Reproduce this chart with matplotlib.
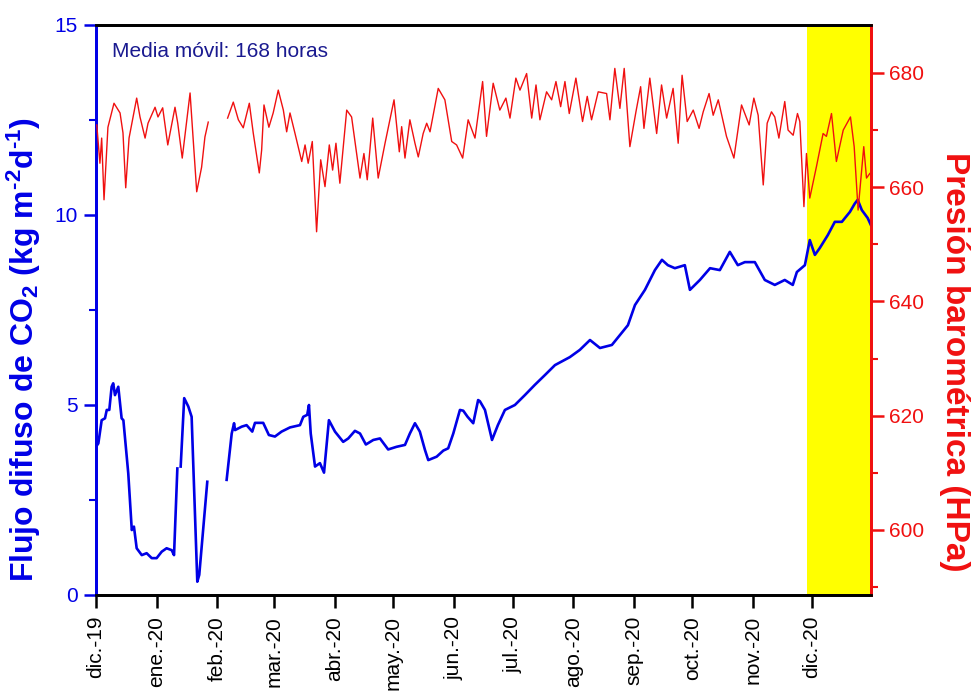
import numpy as np
import matplotlib
matplotlib.use("Agg")
import matplotlib.pyplot as plt
from matplotlib.ticker import FixedLocator, MultipleLocator

plt.rcParams['font.family'] = ['Liberation Sans', 'DejaVu Sans']
plt.rcParams['mathtext.fontset'] = 'custom'
plt.rcParams['mathtext.rm'] = 'Liberation Sans:bold'
plt.rcParams['mathtext.default'] = 'rm'

# ---- data (days since 2019-12-01) ----
flux_days = [0, 1.2, 2.9, 4.6, 5.5, 6.8, 8.0, 8.8, 9.7, 11.4, 13.1, 14.0, 16.5, 18.3, 19.4,
             20.8, 23.4, 25.9, 28.5, 31.0, 33.6, 36.1, 38.7, 39.9, 41.6, 42.4, 43.3, 45.1,
             47.2, 48.9, 51.8, 52.8, 56.9, 61.0,
             66.8, 69.4, 70.6, 71.1, 74.5, 77.0, 79.9, 81.3, 85.5, 88.4, 91.5, 94.9, 99.2,
             104.3, 106.0, 108.0, 108.9, 109.8, 112.0, 114.5, 116.6, 119.1, 122.2, 126.4,
             129.0, 132.4, 135.0, 138.0, 141.8, 145.2, 149.4, 153.7, 158.0, 160.5, 163.1,
             165.6, 168.2, 169.9, 174.2, 177.6, 180.1, 182.7, 186.1, 187.8, 190.0, 192.9,
             195.4, 196.3, 198.9, 202.5, 205.5, 209.1, 214.2, 219.3, 224.4, 229.6, 234.7,
             242.3, 247.4, 252.6, 257.7, 263.8, 267.9, 272.0, 275.6, 280.7, 285.8, 289.4,
             292.4, 296.0, 301.1, 303.7, 308.8, 314.0, 319.0, 324.1, 328.2, 331.8, 336.9,
             342.0, 347.1, 352.2, 356.3, 358.4, 362.5, 365.0, 367.6, 370.1, 374.2, 377.8,
             381.4, 385.5, 388.0, 389.5, 391.6, 394.6, 396.2]
flux_vals = [3.90, 3.99, 4.60, 4.65, 4.87, 4.87, 5.48, 5.57, 5.26, 5.48, 4.65, 4.60, 3.20, 1.71, 1.80,
             1.23, 1.05, 1.10, 0.97, 0.97, 1.14, 1.23, 1.18, 1.05, 3.33, np.nan, 3.38, 5.18,
             4.96, 4.69, 0.35, 0.53, 2.98, np.nan,
             3.03, 4.25, 4.52, 4.34, 4.43, 4.47, 4.30, 4.53, 4.53, 4.21, 4.17, 4.30, 4.41,
             4.47, 4.69, 4.74, 5.00, 4.25, 3.38, 3.47, 3.22, 4.60, 4.30, 4.03,
             4.12, 4.32, 4.25, 3.96, 4.08, 4.12, 3.83, 3.90, 3.95, 4.25, 4.52,
             4.30, 3.82, 3.55, 3.64, 3.80, 3.86, 4.25, 4.87, 4.85, 4.69, 4.52,
             5.13, 5.10, 4.87, 4.08, 4.47, 4.87, 5.00, 5.26, 5.53, 5.79, 6.05,
             6.26, 6.45, 6.71, 6.50, 6.58, 6.84, 7.10, 7.63, 8.03, 8.55, 8.82,
             8.68, 8.60, 8.68, 8.03, 8.29, 8.60, 8.55, 9.03, 8.68, 8.76, 8.76,
             8.29, 8.16, 8.29, 8.16, 8.50, 8.68, 9.34, 8.95, 9.13, 9.47, 9.82,
             9.82, 10.08, 10.30, 10.40, 10.13, 9.92, 9.74]

pres_days = [0.4, 2.0, 2.9, 4.1, 6.1, 9.2, 12.3, 13.8, 15.2, 16.9, 20.8, 22.5, 25.1, 26.6,
             30.2, 31.7, 34.1, 36.7, 40.4, 41.8, 44.1, 48.1, 51.5, 54.0, 55.7, 57.4, 62.0,
             67.3, 70.2, 72.8, 75.3, 78.4, 80.4, 83.5, 84.7, 85.9, 88.4, 90.6, 93.2, 95.8,
             97.5, 99.2, 101.7, 105.2, 106.9, 108.5, 110.6, 112.8, 114.9, 117.1, 119.3,
             121.0, 122.7, 124.7, 128.2, 130.7, 135.0, 137.0, 138.7, 141.5, 144.3, 147.8,
             152.4, 155.1, 156.3, 158.0, 160.5, 163.1, 164.8, 167.3, 169.1, 170.8, 175.0,
             178.4, 181.9, 184.4, 187.5, 190.3, 193.8, 197.7, 199.7, 203.1, 206.5, 209.6,
             211.7, 214.7, 216.8, 220.2, 222.8, 225.0, 227.0, 230.4, 233.0, 235.2, 237.6,
             239.8, 242.0, 245.4, 248.8, 251.2, 253.4, 256.8, 261.1, 262.8, 265.3, 267.9,
             270.1, 273.0, 276.1, 278.5, 280.2, 283.2, 286.7, 289.2, 291.8, 295.1, 297.7,
             299.7, 302.3, 305.4, 308.4, 310.5, 313.5, 315.6, 318.2, 322.4, 326.2, 330.1,
             334.0, 336.4, 338.6, 341.2, 343.2, 345.4, 347.1, 349.2, 352.2, 353.9, 356.5,
             358.7, 359.9, 362.0, 363.3, 365.0, 368.4, 371.8, 373.5, 376.1, 378.6, 382.1,
             385.8, 387.7, 389.7, 392.6, 394.0, 395.7]
pres_vals = [670.9, 664.2, 668.6, 657.8, 670.5, 674.7, 673.0, 669.5, 659.9, 668.6, 675.6, 672.3,
             668.6, 671.2, 674.0, 672.3, 673.9, 667.4, 674.0, 671.2, 665.1, 676.5, 659.2, 663.5,
             668.8, 671.4, np.nan,
             672.1, 674.9, 671.8, 670.4, 674.7, 669.5, 662.5, 666.5, 674.4, 670.5, 673.0, 677.0,
             673.5, 669.7, 673.0, 669.5, 664.5, 667.4, 664.2, 668.0, 652.2, 664.8, 660.1, 667.4,
             663.0, 667.7, 660.7, 673.5, 672.3, 661.6, 665.9, 661.3, 672.1, 661.6, 667.7,
             675.3, 666.2, 670.6, 665.1, 671.8, 667.7, 665.3, 669.4, 671.2, 669.7, 677.3,
             675.3, 668.0, 667.4, 665.1, 671.8, 668.6, 678.5, 668.9, 678.2, 673.5, 675.6,
             672.1, 679.1, 677.0, 679.9, 672.1, 677.9, 671.8, 676.7, 675.3, 678.5, 674.1,
             678.5, 672.9, 679.1, 671.5, 675.9, 671.8, 676.7, 676.4, 671.8, 680.8, 673.8,
             680.8, 667.1, 673.2, 677.6, 670.3, 679.1, 669.4, 677.9, 672.1, 677.3, 667.7,
             679.6, 671.5, 673.5, 670.3, 673.2, 676.4, 672.6, 675.3, 668.9, 665.1, 674.4,
             670.9, 675.6, 672.6, 660.4, 671.2, 673.2, 672.3, 668.6, 675.0, 670.0, 669.1,
             672.9, 671.5, 656.6, 665.9, 658.1, 663.6, 669.4, 668.9, 672.9, 664.5, 670.0,
             672.3, 667.1, 656.0, 667.1, 661.6, 662.4]

month_days = [0, 31, 62, 91, 122, 152, 183, 213, 244, 275, 305, 336, 366]
month_labels = ['dic.-19', 'ene.-20', 'feb.-20', 'mar.-20', 'abr.-20', 'may.-20', 'jun.-20',
                'jul.-20', 'ago.-20', 'sep.-20', 'oct.-20', 'nov.-20', 'dic.-20']
highlight = [363.5, 396.3]

BLUE = '#0000E6'
RED = '#F01010'

fig = plt.figure(figsize=(9.71, 6.91), dpi=100)
ax = fig.add_axes([96/971, 96/691, 775/971, 570/691])
ax2 = ax.twinx()

ax.axvspan(highlight[0], highlight[1], color='#FFFF00', zorder=0, lw=0)
ax.plot(flux_days, flux_vals, color=BLUE, lw=1.9, zorder=3)
ax2.plot(pres_days, pres_vals, color=RED, lw=1.0, zorder=3)

ax.set_xlim(0, 396.3)
ax.set_ylim(0, 15)
ax2.set_ylim(588.6, 688.4)

# x axis
ax.xaxis.set_major_locator(FixedLocator(month_days))
ax.set_xticklabels(month_labels, rotation=90, fontsize=15)
ax.tick_params(axis='x', direction='out', length=9, width=1.8, color='black', pad=6)

# left axis
ax.yaxis.set_major_locator(FixedLocator([0, 5, 10, 15]))
ax.yaxis.set_minor_locator(MultipleLocator(2.5))
ax.tick_params(axis='y', which='major', direction='out', length=9, width=1.8,
               colors=BLUE, labelsize=15, pad=4)
ax.tick_params(axis='y', which='minor', direction='out', length=5, width=1.5, colors=BLUE)

# right axis
ax2.yaxis.set_major_locator(FixedLocator([600, 620, 640, 660, 680]))
ax2.yaxis.set_minor_locator(MultipleLocator(10))
ax2.tick_params(axis='y', which='major', direction='out', length=9, width=1.8,
                colors=RED, labelsize=15, pad=4)
ax2.tick_params(axis='y', which='minor', direction='out', length=5, width=1.5, colors=RED)

for a in (ax, ax2):
    a.spines['left'].set_color(BLUE)
    a.spines['right'].set_color(RED)
    a.spines['top'].set_color('black')
    a.spines['bottom'].set_color('black')
    for s in a.spines.values():
        s.set_linewidth(2)

ax.set_ylabel(r'Flujo difuso de CO$_2$ (kg m$^{\text{-2}}$d$^{\text{-1}}$)', color=BLUE,
              fontsize=23, fontweight='bold')
ax.yaxis.set_label_coords(-0.069, 0.43)
ax2.set_ylabel('Presión barométrica (HPa)', color=RED, fontsize=24,
               fontweight='bold', rotation=270, va='center')
ax2.yaxis.set_label_coords(1.108, 0.41)

ax.text(0.021, 0.953, 'Media móvil: 168 horas', transform=ax.transAxes,
        color='#1A1A90', fontsize=15, va='center', ha='left')

fig.savefig('out.png', dpi=100)
